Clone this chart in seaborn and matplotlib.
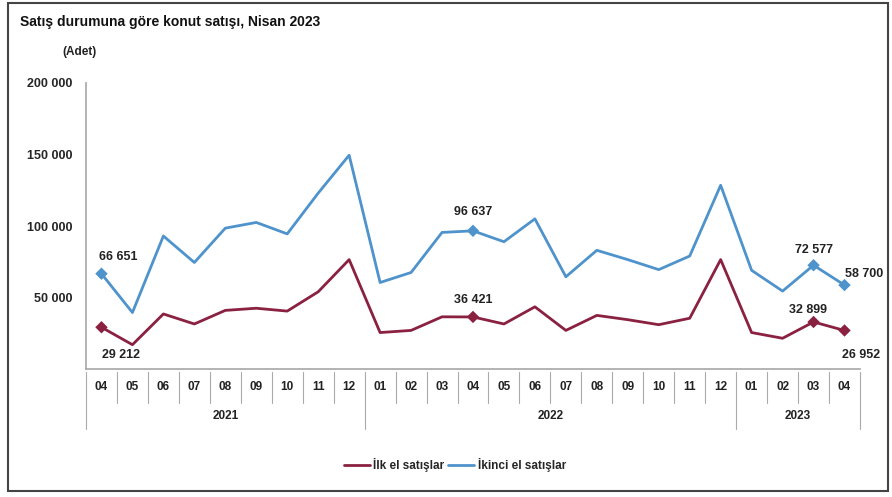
import numpy as np
import pandas as pd
import matplotlib
matplotlib.use("Agg")
import matplotlib.pyplot as plt
import matplotlib.transforms as mtransforms
from matplotlib.patches import Rectangle
from matplotlib.lines import Line2D
import seaborn as sns

# =========================
# data
# =========================
months = ["04", "05", "06", "07", "08", "09", "10", "11", "12",
          "01", "02", "03", "04", "05", "06", "07", "08", "09", "10", "11", "12",
          "01", "02", "03", "04"]
years = ["2021", "2022", "2023"]
year_counts = [9, 12, 4]

ilk_el = [29212, 17000, 38500, 31500, 41000, 42500, 40500, 54000, 76500,
          25500, 27000, 36500, 36421, 31500, 43500, 27000, 37500, 34500, 31000, 35500, 76500,
          25500, 21500, 32899, 26952]
ikinci_el = [66651, 39500, 93000, 74500, 98500, 102500, 94500, 123000, 149500,
             60500, 67500, 95500, 96637, 89000, 105000, 64500, 83000, 76500, 69500, 79000, 128500,
             69000, 54500, 72577, 58700]

series_names = ["İlk el satışlar", "İkinci el satışlar"]
colors = ["#8a2140", "#4f93cc"]
marked_idx = [0, 12, 23, 24]

df = pd.DataFrame({
    "idx": list(range(len(months))) * 2,
    "deger": ilk_el + ikinci_el,
    "seri": [series_names[0]] * len(months) + [series_names[1]] * len(months),
})

sns.set_theme(style="white")
plt.rcParams['font.family'] = ['Liberation Sans', 'DejaVu Sans']

fig = plt.figure(figsize=(8.92, 4.97), dpi=100)
ax = fig.add_axes([0.0964, 0.2575, 0.8677, 0.5755])

sns.lineplot(data=df, x="idx", y="deger", hue="seri", palette=colors,
             linewidth=2, ax=ax, legend=False)

# markers on the labelled points
mk = df[df["idx"].isin(marked_idx)]
sns.scatterplot(data=mk, x="idx", y="deger", hue="seri", palette=colors,
                marker="D", s=40, edgecolor="none", ax=ax, legend=False, zorder=5)

# value labels
def fmt(v):
    return f"{v:,}".replace(",", " ")

label_offsets = {
    (0, 0): (14, -24), (0, 1): (12, 8),
    (12, 0): (0, 8), (12, 1): (0, 9),
    (23, 0): (-4, 4), (23, 1): (0, 7),
    (24, 0): (12, -22), (24, 1): (14, 4),
}
for (i, s), off in label_offsets.items():
    v = [ilk_el, ikinci_el][s][i]
    ax.annotate(fmt(v), (i, v), xytext=off, textcoords="offset points",
                ha="center", va="bottom", fontsize=9, fontweight="bold", color="#222222")

ax.set_xlim(-0.5, len(months) - 0.5)
ax.set_ylim(0, 200000)
ax.set_yticks([0, 50000, 100000, 150000, 200000])
ax.set_yticklabels(["", "50 000", "100 000", "150 000", "200 000"],
                   fontsize=9, fontweight="bold")
ax.tick_params(axis="y", length=4, color="#999999", direction="out", pad=6)
ax.set_xticks([])
ax.set_xlabel("")
ax.set_ylabel("")
for side in ["top", "right"]:
    ax.spines[side].set_visible(False)
ax.spines["left"].set_color("#aaaaaa")
ax.spines["bottom"].set_color("#aaaaaa")

# category axis with two rows
trans = mtransforms.blended_transform_factory(ax.transData, ax.transAxes)
row1 = -0.118
row2 = -0.21
for i, m in enumerate(months):
    ax.text(i, row1 / 2 - 0.004, m, transform=trans, ha="center", va="center",
            fontsize=8.5, fontweight="bold", color="#222222")
for b in range(len(months) + 1):
    ax.plot([b - 0.5, b - 0.5], [-0.01, row1], transform=trans, color="#aaaaaa",
            lw=0.8, clip_on=False)
start = 0
for y, c in zip(years, year_counts):
    ax.text(start + c / 2 - 0.5, (row1 + row2) / 2, y, transform=trans,
            ha="center", va="center", fontsize=8.5, fontweight="bold", color="#222222")
    ax.plot([start - 0.5, start - 0.5], [row1, row2], transform=trans,
            color="#aaaaaa", lw=0.8, clip_on=False)
    start += c
ax.plot([start - 0.5, start - 0.5], [row1, row2], transform=trans,
        color="#aaaaaa", lw=0.8, clip_on=False)

# title and unit
fig.text(0.022, 0.955, "Satış durumuna göre konut satışı, Nisan 2023",
         fontsize=10, fontweight="bold", color="#111111", va="center")
fig.text(0.07, 0.895, "(Adet)", fontsize=8.5, fontweight="bold", color="#222222", va="center")

# legend
handles = [Line2D([0], [0], color=c, lw=2) for c in colors]
fig.legend(handles, series_names, loc="center", bbox_to_anchor=(0.51, 0.065),
           ncol=2, frameon=False, handlelength=2.2,
           handletextpad=0.3, columnspacing=0.3,
           prop={"weight": "bold", "size": 8.5})

# outer frame
fig.patches.append(Rectangle((0.009, 0.012), 0.987, 0.982, transform=fig.transFigure,
                             fill=False, edgecolor="#444444", lw=1.5))

fig.savefig("out.png", dpi=100)
